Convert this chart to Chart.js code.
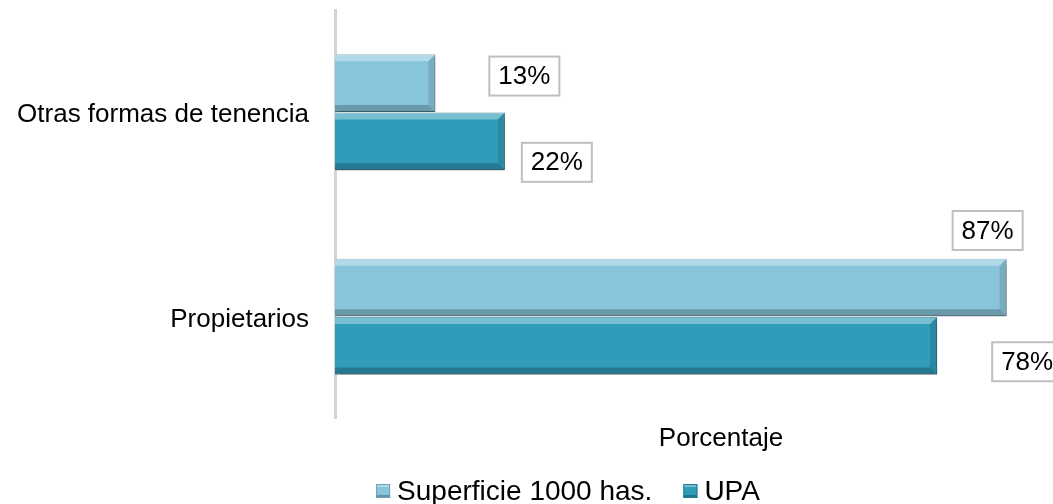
<!DOCTYPE html>
<html>
<head>
<meta charset="utf-8">
<title>Tenencia</title>
<script src="https://cdn.jsdelivr.net/npm/chart.js"></script>
<style>
  html, body { margin: 0; padding: 0; background: #fff; overflow: hidden; }
  #wrap { width: 1128px; height: 504px; }
</style>
</head>
<body>
<div id="wrap"><canvas id="chart" width="1128" height="504"></canvas></div>
<script>
const categories = ['Otras formas de tenencia', 'Propietarios'];
const superficie = [0.13, 0.87];
const upa = [0.22, 0.78];
const seriesNames = ['Superficie 1000 has.', 'UPA'];
const axisTitle = 'Porcentaje';

// where each value box sits relative to the end of its bar (box centre)
const boxOffsets = [
  [[89, -7], [-19, -57]],
  [[52, 21], [90, 16]]
];

const fontFamily = '"Liberation Sans", Arial, sans-serif';
const barColors = ['#88c5da', '#2f9cba'];
const barEdges = ['#6aa3b6', '#237b93'];

const shadowPlugin = {
  id: 'barShadow',
  beforeDatasetsDraw(chart) {
    const ctx = chart.ctx;
    ctx.save();
    ctx.shadowColor = 'rgba(0,0,0,0.35)';
    ctx.shadowBlur = 5;
    ctx.shadowOffsetX = 2;
    ctx.shadowOffsetY = 3;
  },
  afterDatasetsDraw(chart) {
    const ctx = chart.ctx;
    ctx.restore();
    // bevel look on each bar
    chart.data.datasets.forEach((ds, di) => {
      chart.getDatasetMeta(di).data.forEach(bar => {
        const x0 = bar.base, x1 = bar.x;
        const y0 = bar.y - bar.height / 2, y1 = bar.y + bar.height / 2;
        const b = 7;
        ctx.save();
        ctx.fillStyle = 'rgba(255,255,255,0.35)';
        ctx.beginPath();
        ctx.moveTo(x0, y0); ctx.lineTo(x1, y0); ctx.lineTo(x1 - b, y0 + b); ctx.lineTo(x0, y0 + b);
        ctx.fill();
        ctx.fillStyle = 'rgba(0,0,0,0.22)';
        ctx.beginPath();
        ctx.moveTo(x0, y1); ctx.lineTo(x1, y1); ctx.lineTo(x1 - b, y1 - b); ctx.lineTo(x0, y1 - b);
        ctx.fill();
        ctx.fillStyle = 'rgba(0,0,0,0.12)';
        ctx.beginPath();
        ctx.moveTo(x1, y0); ctx.lineTo(x1, y1); ctx.lineTo(x1 - b, y1 - b); ctx.lineTo(x1 - b, y0 + b);
        ctx.fill();
        ctx.restore();
      });
    });
  }
};

const valueBoxes = {
  id: 'valueBoxes',
  afterDraw(chart) {
    const ctx = chart.ctx;
    ctx.save();
    ctx.font = '26px ' + fontFamily;
    ctx.textAlign = 'center';
    ctx.textBaseline = 'middle';
    chart.data.datasets.forEach((ds, di) => {
      chart.getDatasetMeta(di).data.forEach((bar, i) => {
        const [dx, dy] = boxOffsets[di][i];
        const cx = bar.x + dx, cy = bar.y + dy;
        const w = 70, h = 39;
        ctx.fillStyle = '#fff';
        ctx.fillRect(cx - w / 2, cy - h / 2, w, h);
        ctx.strokeStyle = '#bfbfbf';
        ctx.lineWidth = 2;
        ctx.strokeRect(cx - w / 2, cy - h / 2, w, h);
        ctx.fillStyle = '#000';
        ctx.fillText(Math.round(ds.data[i] * 100) + '%', cx, cy + 1);
      });
    });
    ctx.restore();
  }
};

// legend drawn by hand, Excel style: small bevelled square close to the text
const bottomLegend = {
  id: 'bottomLegend',
  afterDraw(chart) {
    const ctx = chart.ctx;
    const centerX = 568, midY = 490, box = 14, gapBox = 7, gapItem = 31;
    ctx.save();
    ctx.font = '28px ' + fontFamily;
    ctx.textBaseline = 'middle';
    const items = chart.data.datasets.map(ds => ({ text: ds.label, w: ctx.measureText(ds.label).width }));
    const total = items.reduce((s, it) => s + box + gapBox + it.w, 0) + gapItem * (items.length - 1);
    let x = centerX - total / 2;
    items.forEach((it, i) => {
      const y = midY - box / 2 + 1;
      ctx.fillStyle = barColors[i];
      ctx.fillRect(x, y, box, box);
      ctx.fillStyle = 'rgba(255,255,255,0.35)';
      ctx.fillRect(x, y, box, 3);
      ctx.fillStyle = 'rgba(0,0,0,0.25)';
      ctx.fillRect(x, y + box - 3, box, 3);
      ctx.strokeStyle = barEdges[i];
      ctx.lineWidth = 1;
      ctx.strokeRect(x + 0.5, y + 0.5, box - 1, box - 1);
      ctx.fillStyle = '#000';
      ctx.fillText(it.text, x + box + gapBox, midY + 2);
      x += box + gapBox + it.w + gapItem;
    });
    ctx.restore();
  }
};

new Chart(document.getElementById('chart'), {
  type: 'bar',
  data: {
    labels: categories,
    datasets: [
      {
        label: seriesNames[0],
        data: superficie,
        backgroundColor: barColors[0],
        borderColor: barEdges[0],
        borderWidth: 1,
        categoryPercentage: 0.57,
        barPercentage: 0.99
      },
      {
        label: seriesNames[1],
        data: upa,
        backgroundColor: barColors[1],
        borderColor: barEdges[1],
        borderWidth: 1,
        categoryPercentage: 0.57,
        barPercentage: 0.99
      }
    ]
  },
  options: {
    indexAxis: 'y',
    responsive: false,
    animation: false,
    devicePixelRatio: 1,
    layout: { padding: { top: 10, right: 21, left: 0, bottom: 50 } },
    scales: {
      x: {
        min: 0,
        max: 1,
        grid: { display: false, drawTicks: false },
        border: { display: false },
        ticks: { display: false },
        afterFit(scale) { scale.paddingLeft = 0; scale.paddingRight = 0; },
        title: {
          display: true,
          text: axisTitle,
          color: '#000',
          font: { family: fontFamily, size: 26 },
          padding: { top: 4, bottom: 0 }
        }
      },
      y: {
        grid: { display: false },
        border: { display: true, color: '#d4d4d4', width: 3 },
        afterFit(scale) { scale.width = 335; scale.paddingTop = 0; scale.paddingBottom = 0; },
        ticks: {
          color: '#000',
          padding: 18,
          labelOffset: 3,
          font: { family: fontFamily, size: 26 }
        }
      }
    },
    plugins: {
      legend: { display: false },
      tooltip: { enabled: false }
    }
  },
  plugins: [shadowPlugin, valueBoxes, bottomLegend]
});
</script>
</body>
</html>
